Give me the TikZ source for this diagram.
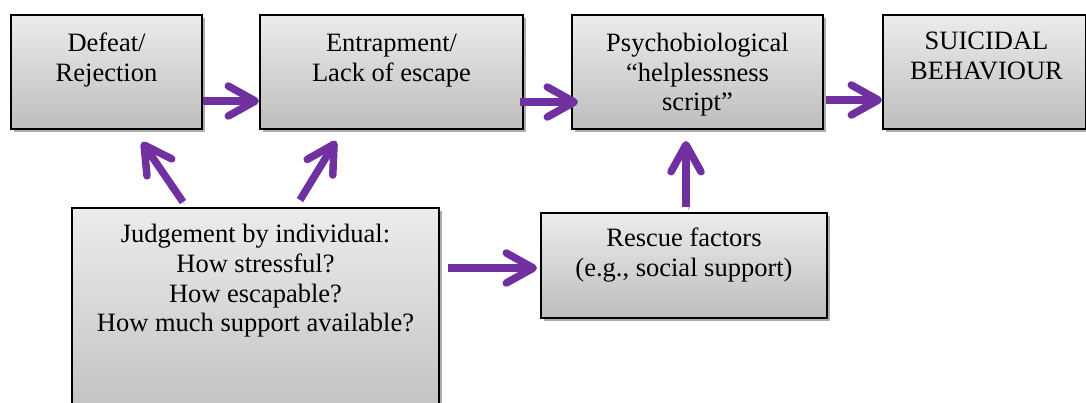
\documentclass[tikz,border=0pt]{standalone}
\usepackage{fontspec}
\setmainfont{Liberation Serif}
\usetikzlibrary{arrows.meta,shadows}

\definecolor{flowpurple}{HTML}{7030A0}
\definecolor{boxtop}{HTML}{ECECEC}
\definecolor{boxbottom}{HTML}{BDBDBD}

% multi-line text whose baseline is that of its first line
\newcommand{\stack}[1]{\begin{tabular}[t]{@{}c@{}}#1\end{tabular}}

\tikzset{
  stagebox/.style={draw=black, line width=2pt, rectangle, inner sep=0pt,
    anchor=north west, top color=boxtop, bottom color=boxbottom,
    drop shadow={shadow xshift=3pt, shadow yshift=-3pt, fill=black!40, opacity=0.8}},
  boxtext/.style={anchor=base, inner sep=0pt,
    font=\fontsize{26.5}{29.5}\selectfont},
  flow/.style={draw=flowpurple, line width=7.5pt,
    -{Straight Barb[length=27pt, width=30pt, round]},
    preaction={draw=black!30, transform canvas={xshift=2pt, yshift=-3pt}}},
}

\begin{document}
\begin{tikzpicture}[x=1pt, y=-1pt]
\useasboundingbox (0,0) rectangle (1086,403);
\clip (0,0) rectangle (1086,403);

% stage boxes
\node[stagebox, minimum width=191, minimum height=114] (defeat) at (10,14) {};
\node[stagebox, minimum width=263, minimum height=114] (entrap) at (259,14) {};
\node[stagebox, minimum width=251, minimum height=114] (psycho) at (571,14) {};
\node[stagebox, minimum width=203, minimum height=114] (suicide) at (882,14) {};
\node[stagebox, minimum width=367, minimum height=230] (judge) at (71,207) {};
\node[stagebox, minimum width=286, minimum height=105] (rescue) at (540,212) {};

% box texts
\node[boxtext] (defeat-t) at ([yshift=-38pt]defeat.north) {\stack{Defeat/\\Rejection}};
\node[boxtext] (entrap-t) at ([yshift=-38pt]entrap.north) {\stack{Entrapment/\\Lack of escape}};
\node[boxtext] (psycho-t) at ([yshift=-38pt]psycho.north) {\stack{Psychobiological\\“helplessness\\script”}};
\node[boxtext] (suicide-t) at ([xshift=2pt, yshift=-36pt]suicide.north) {\stack{SUICIDAL\\BEHAVIOUR}};
\node[boxtext] (judge-t) at ([yshift=-36pt]judge.north) {\stack{Judgement by individual:\\How stressful?\\How escapable?\\How much support available?}};
\node[boxtext] (rescue-t) at ([yshift=-35pt]rescue.north) {\stack{Rescue factors\\(e.g., social support)}};

% connectors
\draw[flow] ([yshift=-29pt]defeat.east) -- ([yshift=-29pt]entrap.west);
\draw[flow] ([xshift=-4pt, yshift=-30pt]entrap.east) -- ([xshift=7pt, yshift=-30pt]psycho.west);
\draw[flow] ([xshift=2pt, yshift=-28pt]psycho.east) -- ([yshift=-28pt]suicide.west);
\draw[flow] ([xshift=8pt, yshift=-61pt]judge.north east) -- ([xshift=-3pt, yshift=-56pt]rescue.north west);
\draw[flow] ([xshift=146pt, yshift=5pt]rescue.north west) -- ([xshift=115pt, yshift=-11pt]psycho.south west);
\draw[flow] ([xshift=112pt, yshift=5pt]judge.north west) -- ([xshift=132pt, yshift=-12pt]defeat.south west);
\draw[flow] ([xshift=229pt, yshift=7pt]judge.north west) -- ([xshift=77pt, yshift=-11pt]entrap.south west);
\end{tikzpicture}
\end{document}
